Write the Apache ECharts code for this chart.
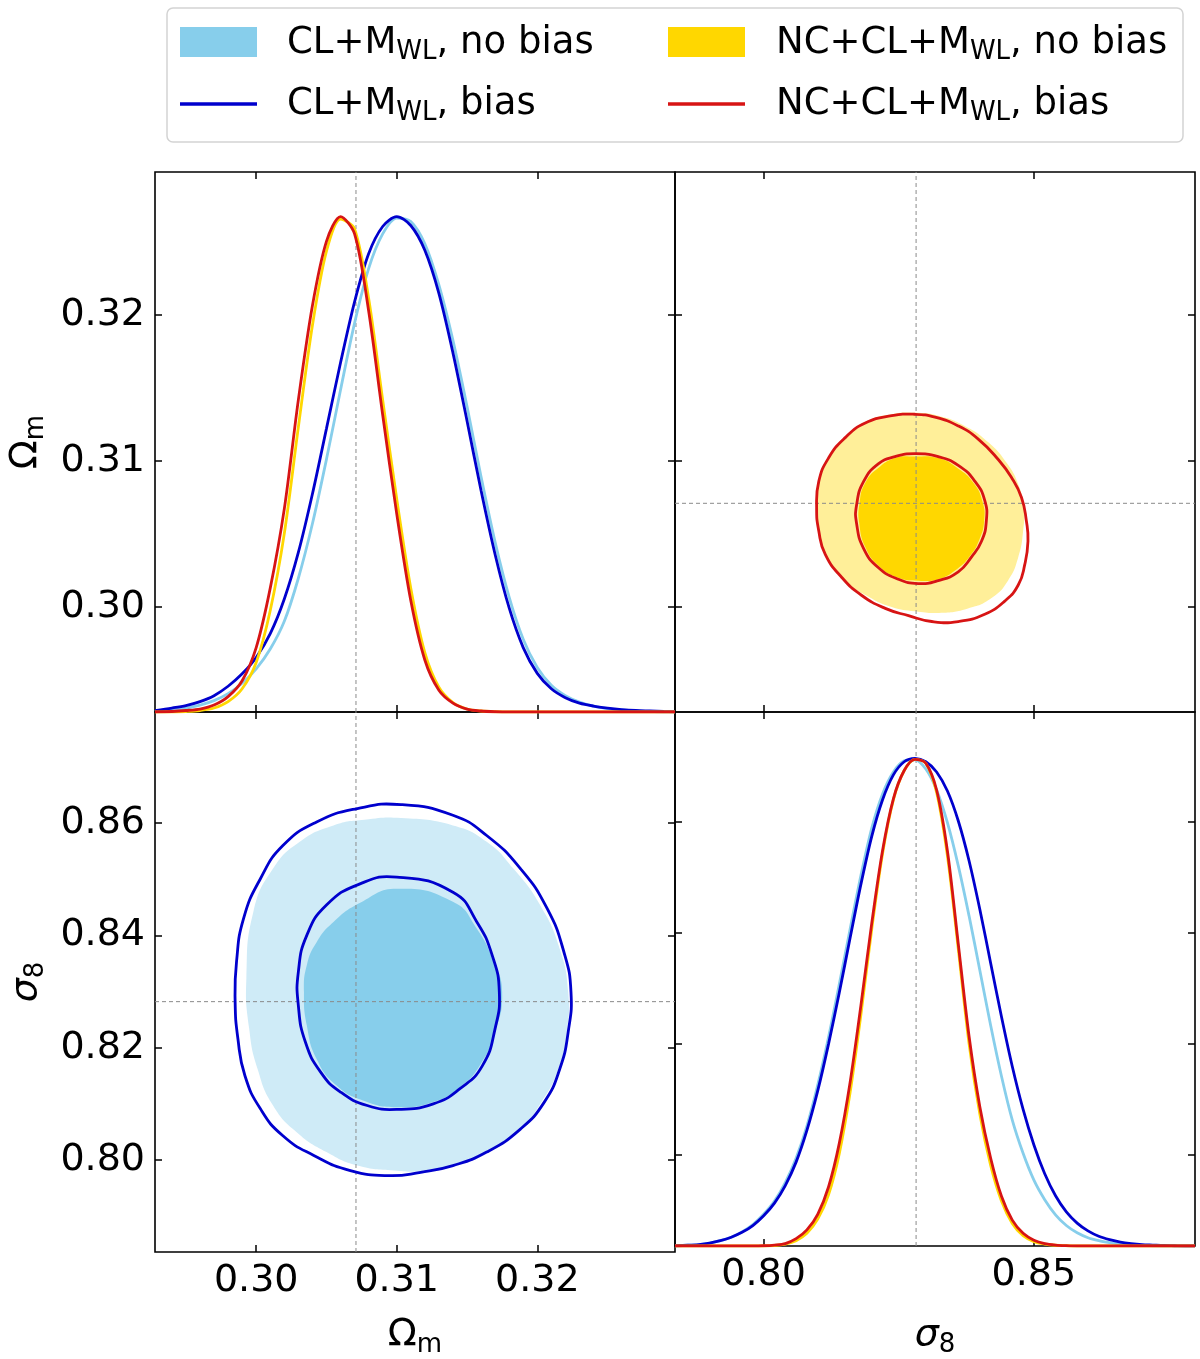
<!DOCTYPE html>
<html>
<head>
<meta charset="utf-8">
<script src="https://cdn.jsdelivr.net/npm/echarts@6/dist/echarts.min.js"></script>
<style>html,body{margin:0;background:#fff}#chart{width:1200px;height:1359px}</style>
</head>
<body>
<div id="chart"></div>
<script>
// axis ranges and ticks
var omRange = [0.2928, 0.3298];
var s8Range = [0.7836, 0.8798];
var omTicks = [0.30, 0.31, 0.32];
var s8xTicks = [0.80, 0.85];
var s8yTicks = [0.80, 0.82, 0.84, 0.86];
var refOm = 0.3071;
var refS8 = 0.8282;

// 1D posterior of Omega_m (peak normalised to 1)
var omGrid = [0.2928, 0.294, 0.295, 0.296, 0.297, 0.298, 0.299, 0.300, 0.301, 0.302, 0.303, 0.304, 0.305,
  0.306, 0.307, 0.308, 0.309, 0.310, 0.311, 0.312, 0.313, 0.314, 0.315, 0.316, 0.317, 0.318, 0.319, 0.320,
  0.321, 0.322, 0.323, 0.324, 0.325, 0.326, 0.327, 0.328, 0.329, 0.3298];
var omClNoBias = [0.001, 0.004, 0.008, 0.014, 0.023, 0.037, 0.058, 0.087, 0.127, 0.183, 0.27, 0.38, 0.51,
  0.65, 0.785, 0.895, 0.965, 0.997, 0.99, 0.945, 0.862, 0.75, 0.617, 0.475, 0.343, 0.232, 0.147, 0.09,
  0.054, 0.033, 0.02, 0.012, 0.007, 0.004, 0.002, 0.001, 0, 0];
var omClBias = [0.003, 0.008, 0.013, 0.021, 0.033, 0.052, 0.077, 0.11, 0.158, 0.228, 0.322, 0.44, 0.572,
  0.705, 0.828, 0.925, 0.98, 1.0, 0.982, 0.932, 0.845, 0.725, 0.588, 0.447, 0.318, 0.21, 0.13, 0.078,
  0.047, 0.029, 0.018, 0.012, 0.008, 0.005, 0.003, 0.002, 0.001, 0.0005];
var omNcNoBias = [0, 0, 0.001, 0.003, 0.008, 0.021, 0.047, 0.10, 0.205, 0.36, 0.575, 0.78, 0.93,
  0.995, 0.975, 0.835, 0.63, 0.43, 0.25, 0.12, 0.05, 0.019, 0.006, 0.002, 0.0005, 0, 0, 0,
  0, 0, 0, 0, 0, 0, 0, 0, 0, 0];
var omNcBias = [0, 0.001, 0.003, 0.006, 0.014, 0.031, 0.063, 0.13, 0.25, 0.41, 0.63, 0.82, 0.95,
  1.0, 0.965, 0.81, 0.60, 0.40, 0.225, 0.105, 0.044, 0.018, 0.006, 0.002, 0.0005, 0, 0, 0,
  0, 0, 0, 0, 0, 0, 0, 0, 0, 0];

// 1D posterior of sigma_8
var s8Grid = [0.7836, 0.786, 0.788, 0.790, 0.792, 0.794, 0.796, 0.798, 0.800, 0.802, 0.804, 0.806, 0.808,
  0.810, 0.812, 0.814, 0.816, 0.818, 0.820, 0.822, 0.824, 0.826, 0.828, 0.830, 0.832, 0.834, 0.836,
  0.838, 0.840, 0.842, 0.844, 0.846, 0.848, 0.850, 0.852, 0.854, 0.856, 0.858, 0.860, 0.862, 0.864,
  0.866, 0.868, 0.870, 0.872, 0.874, 0.876, 0.878, 0.8798];
var s8ClNoBias = [0.0005, 0.0015, 0.003, 0.006, 0.011, 0.018, 0.029, 0.044, 0.065, 0.092, 0.13, 0.18, 0.246,
  0.33, 0.428, 0.537, 0.65, 0.76, 0.857, 0.927, 0.972, 0.995, 0.997, 0.978, 0.935, 0.868, 0.78,
  0.677, 0.565, 0.452, 0.348, 0.258, 0.19, 0.135, 0.095, 0.064, 0.042, 0.027, 0.017, 0.011, 0.007,
  0.004, 0.002, 0.001, 0.0005, 0, 0, 0, 0];
var s8ClBias = [0.0005, 0.0015, 0.003, 0.006, 0.011, 0.018, 0.028, 0.042, 0.062, 0.088, 0.124, 0.172, 0.237,
  0.318, 0.414, 0.52, 0.632, 0.742, 0.84, 0.915, 0.966, 0.993, 1.0, 0.993, 0.972, 0.933, 0.872,
  0.79, 0.69, 0.58, 0.47, 0.368, 0.28, 0.207, 0.148, 0.103, 0.07, 0.047, 0.031, 0.02, 0.013,
  0.008, 0.005, 0.003, 0.002, 0.001, 0.0005, 0, 0];
var s8NcNoBias = [0, 0, 0, 0, 0, 0, 0, 0, 0, 0.001, 0.004, 0.011, 0.026,
  0.055, 0.105, 0.19, 0.315, 0.475, 0.65, 0.805, 0.915, 0.975, 0.998, 0.99, 0.93, 0.80, 0.61,
  0.415, 0.27, 0.165, 0.092, 0.046, 0.021, 0.009, 0.004, 0.0015, 0.0005, 0, 0, 0, 0,
  0, 0, 0, 0, 0, 0, 0, 0];
var s8NcBias = [0, 0, 0, 0, 0, 0, 0, 0, 0.0005, 0.002, 0.005, 0.015, 0.033,
  0.065, 0.121, 0.211, 0.336, 0.494, 0.662, 0.811, 0.917, 0.975, 0.998, 0.99, 0.935, 0.81, 0.62,
  0.43, 0.285, 0.18, 0.102, 0.053, 0.026, 0.012, 0.005, 0.002, 0.0007, 0, 0, 0, 0,
  0, 0, 0, 0, 0, 0, 0, 0];

// 2D contours, NC+CL+M_WL : [sigma_8, Omega_m]
var ncOuterFill = [[0.8279, 0.3133], [0.8323, 0.3131], [0.8372, 0.3124], [0.8415, 0.3113], [0.8449, 0.3099],
  [0.8471, 0.3084], [0.8481, 0.3068], [0.8480, 0.3052], [0.8471, 0.3034], [0.8452, 0.3018], [0.8421, 0.3006],
  [0.8378, 0.2999], [0.8329, 0.2996], [0.8280, 0.2997], [0.8237, 0.3000], [0.8194, 0.3007], [0.8151, 0.3018],
  [0.8117, 0.3034], [0.8103, 0.3052], [0.8100, 0.3068], [0.8103, 0.3086], [0.8122, 0.3102], [0.8153, 0.3117],
  [0.8189, 0.3127], [0.8237, 0.3132]];
var ncInnerFill = [[0.8279, 0.3103], [0.8323, 0.3102], [0.8359, 0.3095], [0.8388, 0.3085], [0.8405, 0.3072],
  [0.8408, 0.3059], [0.8399, 0.3046], [0.8382, 0.3035], [0.8358, 0.3026], [0.8323, 0.3019], [0.8286, 0.3018],
  [0.8249, 0.3020], [0.8213, 0.3028], [0.8188, 0.3041], [0.8177, 0.3057], [0.8177, 0.3070], [0.8188, 0.3085],
  [0.8215, 0.3096], [0.8244, 0.3102]];
var ncOuterLine = [[0.8279, 0.3132], [0.8317, 0.3130], [0.8360, 0.3124], [0.8397, 0.3115], [0.8434, 0.3101],
  [0.8458, 0.3089], [0.8477, 0.3075], [0.8486, 0.3059], [0.8489, 0.3045], [0.8483, 0.3029], [0.8471, 0.3015],
  [0.8446, 0.3004], [0.8409, 0.2995], [0.8360, 0.2990], [0.8311, 0.2990], [0.8268, 0.2994], [0.8225, 0.2999],
  [0.8181, 0.3008], [0.8145, 0.3020], [0.8114, 0.3036], [0.8102, 0.3052], [0.8098, 0.3068], [0.8102, 0.3086],
  [0.8120, 0.3102], [0.8151, 0.3116], [0.8188, 0.3126], [0.8237, 0.3131]];
var ncInnerLine = [[0.8279, 0.3105], [0.8323, 0.3103], [0.8360, 0.3097], [0.8391, 0.3086], [0.8409, 0.3073],
  [0.8412, 0.3059], [0.8403, 0.3045], [0.8384, 0.3034], [0.8360, 0.3024], [0.8323, 0.3018], [0.8286, 0.3016],
  [0.8249, 0.3019], [0.8212, 0.3027], [0.8185, 0.3040], [0.8172, 0.3057], [0.8172, 0.3070], [0.8185, 0.3086],
  [0.8212, 0.3098], [0.8243, 0.3103]];

// 2D contours, CL+M_WL : [Omega_m, sigma_8]
var clOuterFill = [[0.3103, 0.8609], [0.3140, 0.8596], [0.3164, 0.8567], [0.3183, 0.8519],
  [0.3202, 0.8454], [0.3216, 0.8376], [0.3222, 0.8299], [0.3221, 0.8228], [0.3215, 0.8162], [0.3203, 0.8103],
  [0.3188, 0.8055], [0.3164, 0.8014], [0.3140, 0.7990], [0.3117, 0.7980], [0.3098, 0.7981], [0.3072, 0.7990],
  [0.3050, 0.8014], [0.3029, 0.8049], [0.3012, 0.8097], [0.3001, 0.8162], [0.2995, 0.8234], [0.2993, 0.8323],
  [0.2998, 0.8442], [0.3012, 0.8519], [0.3031, 0.8567], [0.3055, 0.8596], [0.3077, 0.8606]];
var clInnerFill = [[0.3100, 0.8483], [0.3140, 0.8460], [0.3157, 0.8412], [0.3169, 0.8353],
  [0.3175, 0.8299], [0.3170, 0.8228], [0.3159, 0.8168], [0.3145, 0.8130], [0.3126, 0.8103], [0.3100, 0.8094],
  [0.3076, 0.8106], [0.3057, 0.8133], [0.3043, 0.8180], [0.3036, 0.8240], [0.3034, 0.8299], [0.3036, 0.8347],
  [0.3043, 0.8388], [0.3055, 0.8424], [0.3074, 0.8458]];
var clOuterLine = [[0.3103, 0.8633], [0.3140, 0.8614], [0.3164, 0.8578], [0.3188, 0.8519],
  [0.3207, 0.8448], [0.3219, 0.8370], [0.3224, 0.8299], [0.3222, 0.8228], [0.3216, 0.8162], [0.3205, 0.8103],
  [0.3188, 0.8055], [0.3164, 0.8014], [0.3140, 0.7990], [0.3117, 0.7978], [0.3095, 0.7972], [0.3067, 0.7981],
  [0.3041, 0.8008], [0.3019, 0.8043], [0.3003, 0.8091], [0.2992, 0.8150], [0.2987, 0.8216], [0.2985, 0.8284],
  [0.2986, 0.8353], [0.2991, 0.8430], [0.3003, 0.8501], [0.3019, 0.8560], [0.3043, 0.8602], [0.3072, 0.8626]];
var clInnerLine = [[0.3100, 0.8504], [0.3140, 0.8477], [0.3157, 0.8424], [0.3168, 0.8364],
  [0.3173, 0.8299], [0.3170, 0.8234], [0.3161, 0.8168], [0.3145, 0.8127], [0.3126, 0.8100],
  [0.3100, 0.8090], [0.3079, 0.8097], [0.3060, 0.8121], [0.3046, 0.8156], [0.3035, 0.8210], [0.3030, 0.8275],
  [0.3030, 0.8335], [0.3036, 0.8400], [0.3050, 0.8454], [0.3073, 0.8491]];

var FONT = 'DejaVu Sans';
var SKY = '#87CEEB', SKY_PALE = '#CFEBF7', BLUE = '#0000CD';
var GOLD = '#FFD700', GOLD_PALE = '#FFEF99', RED = '#D71414';
var LW = 2.8;

var chart = echarts.init(document.getElementById('chart'));

var grids = [
  {left: 155, top: 172, width: 520, height: 540},
  {left: 675, top: 172, width: 520, height: 540},
  {left: 155, top: 712, width: 520, height: 540},
  {left: 675, top: 712, width: 520, height: 540}
].map(function (g) {
  g.show = true; g.borderColor = '#000'; g.borderWidth = 1.6; g.backgroundColor = 'transparent';
  return g;
});

var richName = {
  a: {fontSize: 38, fontFamily: FONT, color: '#000', lineHeight: 46},
  i: {fontSize: 38, fontFamily: FONT, fontStyle: 'italic', color: '#000', lineHeight: 46},
  s: {fontSize: 26, fontFamily: FONT, color: '#000', lineHeight: 26, verticalAlign: 'bottom'}
};

function axis(gridIndex, pos, range, ticks, opts) {
  opts = opts || {};
  var a = {
    type: 'value', gridIndex: gridIndex, position: pos, min: range[0], max: range[1],
    axisLine: {show: false},
    axisTick: {show: true, inside: true, length: 7, customValues: ticks, lineStyle: {color: '#000', width: 1.5}},
    axisLabel: {show: !!opts.labels, customValues: ticks, formatter: function (v) { return v.toFixed(2); },
      fontSize: 38, fontFamily: FONT, color: '#000', margin: 10},
    splitLine: {show: false}
  };
  if (opts.name) {
    a.name = opts.name; a.nameLocation = 'middle'; a.nameGap = opts.gap;
    a.nameTextStyle = {rich: richName};
  }
  return a;
}

var xAxes = [
  axis(0, 'bottom', omRange, omTicks),
  axis(0, 'top', omRange, omTicks),
  axis(1, 'bottom', s8Range, s8xTicks),
  axis(1, 'top', s8Range, s8xTicks),
  axis(2, 'bottom', omRange, omTicks, {labels: true, name: '{a|Ω}{s|m}', gap: 60}),
  axis(2, 'top', omRange, omTicks),
  axis(3, 'bottom', s8Range, s8xTicks, {labels: true, name: '{i|σ}{s|8}', gap: 66}),
  axis(3, 'top', s8Range, s8xTicks)
];
var yAxes = [
  axis(0, 'left', omRange, omTicks, {labels: true, name: '{a|Ω}{s|m}', gap: 106}),
  axis(0, 'right', omRange, omTicks),
  {type: 'value', gridIndex: 0, min: 0, max: 1.09, show: false},
  axis(1, 'left', omRange, omTicks),
  axis(1, 'right', omRange, omTicks),
  axis(2, 'left', s8Range, s8yTicks, {labels: true, name: '{i|σ}{s|8}', gap: 106}),
  axis(2, 'right', s8Range, s8yTicks),
  axis(3, 'left', s8Range, s8yTicks),
  axis(3, 'right', s8Range, s8yTicks),
  {type: 'value', gridIndex: 3, min: 0, max: 1.095, show: false}
];

function density(name, grid, vals, xi, yi, color) {
  return {
    type: 'line', name: name, xAxisIndex: xi, yAxisIndex: yi, smooth: 0.3, showSymbol: false, silent: true,
    lineStyle: {color: color, width: LW}, itemStyle: {color: color},
    data: grid.map(function (x, i) { return [x, vals[i]]; })
  };
}

function contour(name, pts, xi, yi, fill, stroke) {
  return {
    type: 'custom', name: name, xAxisIndex: xi, yAxisIndex: yi, silent: true, data: [0],
    renderItem: function (params, api) {
      var points = pts.map(function (p) { return api.coord(p); });
      return {
        type: 'polygon', shape: {points: points, smooth: 0.5},
        style: {fill: fill || 'none', stroke: stroke || 'none', lineWidth: stroke ? LW : 0}
      };
    }
  };
}

// dashed reference lines, each given by its two end points in data units
function refLines(xi, yi, segs) {
  return {
    type: 'custom', xAxisIndex: xi, yAxisIndex: yi, silent: true, data: segs.map(function (s, i) { return i; }),
    renderItem: function (params, api) {
      var s = segs[params.dataIndex];
      var p0 = api.coord(s[0]), p1 = api.coord(s[1]);
      return {
        type: 'line', shape: {x1: p0[0], y1: p0[1], x2: p1[0], y2: p1[1]},
        style: {stroke: '#8a8a8a', lineWidth: 1, lineDash: [4, 3]}
      };
    }
  };
}

var series = [
  // top-left: Omega_m 1D
  refLines(0, 2, [[[refOm, 0], [refOm, 1.09]]]),
  density('CL no bias', omGrid, omClNoBias, 0, 2, SKY),
  density('CL bias', omGrid, omClBias, 0, 2, BLUE),
  density('NC no bias', omGrid, omNcNoBias, 0, 2, GOLD),
  density('NC bias', omGrid, omNcBias, 0, 2, RED),
  // top-right: sigma_8 vs Omega_m
  contour('NC outer fill', ncOuterFill, 2, 3, GOLD_PALE, null),
  contour('NC inner fill', ncInnerFill, 2, 3, GOLD, null),
  refLines(2, 3, [[[refS8, omRange[0]], [refS8, omRange[1]]], [[s8Range[0], refOm], [s8Range[1], refOm]]]),
  contour('NC outer line', ncOuterLine, 2, 3, null, RED),
  contour('NC inner line', ncInnerLine, 2, 3, null, RED),
  // bottom-left: Omega_m vs sigma_8
  contour('CL outer fill', clOuterFill, 4, 5, SKY_PALE, null),
  contour('CL inner fill', clInnerFill, 4, 5, SKY, null),
  refLines(4, 5, [[[refOm, s8Range[0]], [refOm, s8Range[1]]], [[omRange[0], refS8], [omRange[1], refS8]]]),
  contour('CL outer line', clOuterLine, 4, 5, null, BLUE),
  contour('CL inner line', clInnerLine, 4, 5, null, BLUE),
  // bottom-right: sigma_8 1D
  refLines(6, 9, [[[refS8, 0], [refS8, 1.095]]]),
  density('CL no bias', s8Grid, s8ClNoBias, 6, 9, SKY),
  density('CL bias', s8Grid, s8ClBias, 6, 9, BLUE),
  density('NC no bias', s8Grid, s8NcNoBias, 6, 9, GOLD),
  density('NC bias', s8Grid, s8NcBias, 6, 9, RED)
];

// legend drawn as a framed box
var legRich = {
  a: {fontSize: 37, fontFamily: FONT, fill: '#000', lineHeight: 45},
  s: {fontSize: 26, fontFamily: FONT, fill: '#000', lineHeight: 26, verticalAlign: 'bottom'}
};
function legText(x, y, txt) {
  return {type: 'text', x: x, y: y, style: {text: txt, rich: legRich, verticalAlign: 'middle', textVerticalAlign: 'middle'}};
}
var graphic = [
  {type: 'rect', shape: {x: 167, y: 8, width: 1016, height: 134, r: 6}, style: {fill: '#fff', stroke: '#d3d3d3', lineWidth: 1.5}},
  {type: 'rect', shape: {x: 180, y: 27, width: 77, height: 30}, style: {fill: SKY}},
  {type: 'line', shape: {x1: 180, y1: 104, x2: 257, y2: 104}, style: {stroke: BLUE, lineWidth: 3.5}},
  {type: 'rect', shape: {x: 668, y: 27, width: 77, height: 30}, style: {fill: GOLD}},
  {type: 'line', shape: {x1: 668, y1: 104, x2: 745, y2: 104}, style: {stroke: RED, lineWidth: 3.5}},
  legText(287, 43, '{a|CL+M}{s|WL}{a|, no bias}'),
  legText(287, 104, '{a|CL+M}{s|WL}{a|, bias}'),
  legText(776, 43, '{a|NC+CL+M}{s|WL}{a|, no bias}'),
  legText(776, 104, '{a|NC+CL+M}{s|WL}{a|, bias}')
];

chart.setOption({
  animation: false,
  backgroundColor: '#fff',
  grid: grids,
  xAxis: xAxes,
  yAxis: yAxes,
  series: series,
  graphic: graphic
});
</script>
</body>
</html>
